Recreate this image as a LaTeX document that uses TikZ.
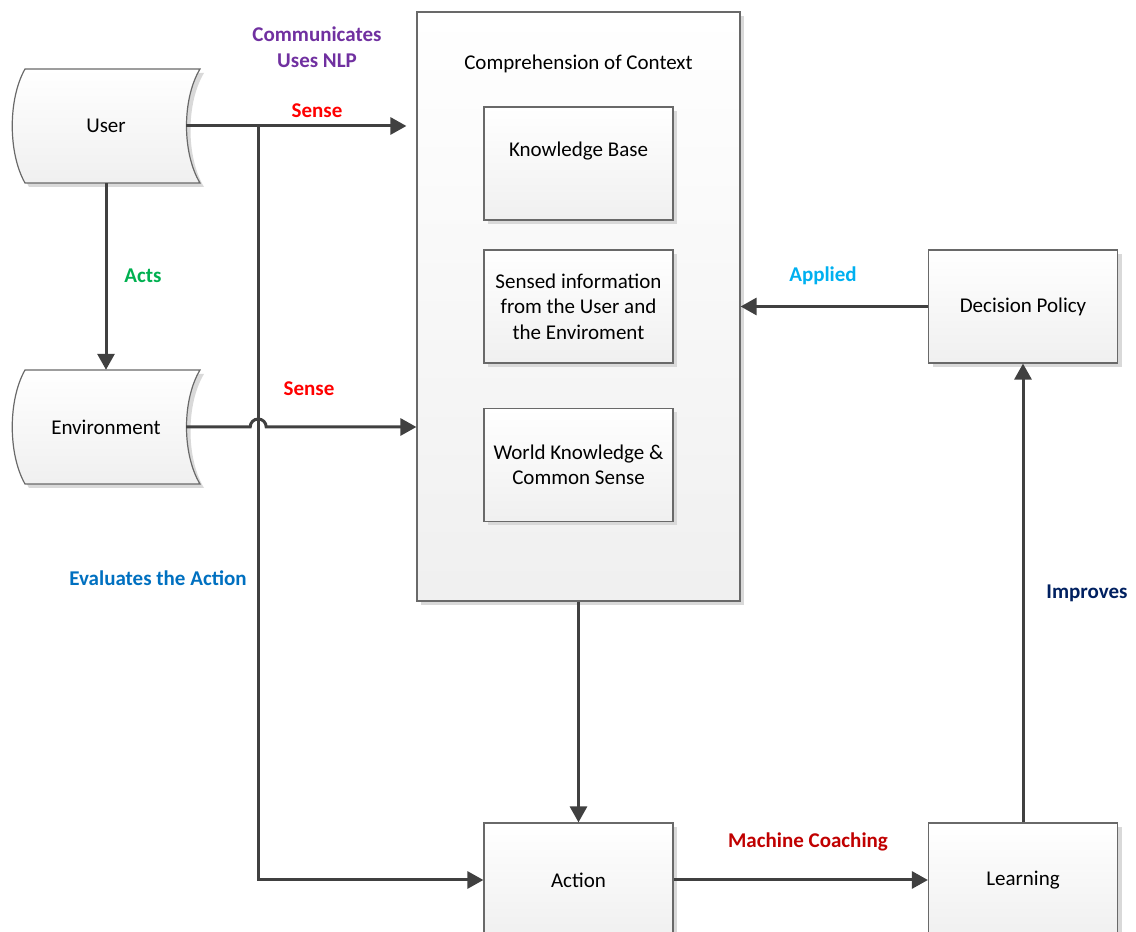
\documentclass[tikz,border=0pt]{standalone}
\usepackage{fontspec}
\setmainfont{Carlito}
\usetikzlibrary{arrows.meta}
\usetikzlibrary{shadows}
\usetikzlibrary{calc}
\definecolor{linegray}{RGB}{64,64,64}
\definecolor{boxgray}{RGB}{105,105,105}
\definecolor{nlppurple}{RGB}{112,48,160}
\definecolor{sensered}{RGB}{255,0,0}
\definecolor{actsgreen}{RGB}{0,176,80}
\definecolor{evalblue}{RGB}{0,112,192}
\definecolor{appliedblue}{RGB}{0,176,240}
\definecolor{coachred}{RGB}{192,0,0}
\definecolor{improvesnavy}{RGB}{0,32,96}
\newcommand{\storedbox}[4]{%
\fill[black!15] (#2-77,#3+53) .. controls +(-17,-30) and +(-17,30) .. (#2-77,#3-61) -- (#2+98,#3-61) .. controls +(-18,30) and +(-18,-30) .. (#2+98,#3+53) -- cycle;
\path[storedfill] (#2-81,#3+57) .. controls +(-17,-30) and +(-17,30) .. (#2-81,#3-57) -- (#2+94,#3-57) .. controls +(-18,30) and +(-18,-30) .. (#2+94,#3+57) -- cycle;
\node[minimum width=160pt, minimum height=114pt, inner sep=0pt] (#1) at (#2,#3) {#4};}

\begin{document}
\begin{tikzpicture}[x=1pt,y=1pt,
  every node/.style={font=\fontsize{21}{25.5}\selectfont},
  box/.style={draw=boxgray, line width=1.2pt, top color=white, bottom color=black!6,
    minimum width=189pt, minimum height=113pt, align=center, inner sep=0pt,
    drop shadow={shadow xshift=4pt, shadow yshift=-4pt, fill=black!15, opacity=1}},
  storedfill/.style={draw=boxgray, line width=1.2pt, top color=white, bottom color=black!6},
  flow/.style={draw=linegray, line width=3pt, -{Triangle[length=16pt,width=17pt]}},
  lbl/.style={font=\fontsize{21}{25.5}\selectfont\bfseries, align=center}]
\useasboundingbox (0,0) rectangle (1136,932);
\clip (0,0) rectangle (1136,932);

\node[box, minimum width=323pt, minimum height=589pt] (context) at (578.5,625.5) {};
\node (ctxtitle) at (578.5,868) {Comprehension of Context};
\node[box, text depth=29pt] (kb) at (578.5,768.5) {Knowledge Base};
\node[box] (sensed) at (578.5,625.5) {Sensed information\\from the User and\\the Enviroment};
\node[box] (world) at (578.5,467) {World Knowledge \&\\Common Sense};
\node[box] (policy) at (1023,625.5) {Decision Policy};
\node[box, minimum height=114pt] (action) at (578.5,52) {Action};
\node[box, minimum height=114pt] (learning) at (1023,52) {Learning};

\storedbox{user}{106}{806}{User}
\storedbox{env}{106}{505}{Environment}

\coordinate (split) at ($(user.east)+(72,0)$);
\coordinate (hop) at (split |- env.east);
\draw[flow] (user.east) -- ($(user.east -| context.west)+(-10,0)$);
\draw[flow] (split) |- (action.west);
\draw[flow] (env.east) -- ($(hop)+(-8,0)$) arc[start angle=180, end angle=0, radius=8] -- (env.east -| context.west);
\draw[flow] (user.south) -- (env.north);
\draw[flow] (context.south) -- (action.north);
\draw[flow] (action.east) -- (learning.west);
\draw[flow] (learning.north) -- (policy.south);
\draw[flow] (policy.west) -- (context.east);

\node[lbl, text=nlppurple] (commlbl) at (317,885) {Communicates\\Uses NLP};
\node[lbl, text=sensered] (senselbl) at (317,821) {Sense};
\node[lbl, text=actsgreen] (actslbl) at (143,656) {Acts};
\node[lbl, text=sensered] (envsenselbl) at (309,543) {Sense};
\node[lbl, text=evalblue] (evallbl) at (158,354) {Evaluates the Action};
\node[lbl, text=appliedblue] (appliedlbl) at (823,656) {Applied};
\node[lbl, text=coachred] (coachlbl) at (808,90) {Machine Coaching};
\node[lbl, text=improvesnavy] (improveslbl) at (1087,339) {Improves};
\end{tikzpicture}
\end{document}
